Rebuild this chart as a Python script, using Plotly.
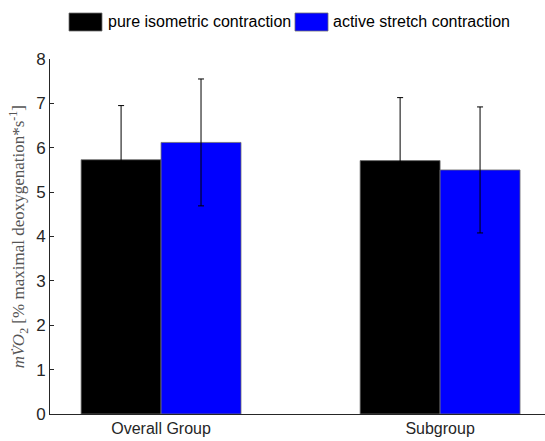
import plotly.graph_objects as go

# Group positions and labels
group_pos = [1, 2]
group_labels = ["Overall Group", "Subgroup"]

# Mean mVO2 and standard deviation per condition
iso_mean = [5.73, 5.71]
iso_sd = [1.22, 1.42]
stretch_mean = [6.12, 5.50]
stretch_sd = [1.43, 1.42]

series_names = ["pure isometric contraction", "active stretch contraction"]
series_colors = ["#000000", "#0000FF"]

AXIS_GREY = "#262626"
FONT = "Liberation Sans, Arial, sans-serif"

fig = go.Figure()
for name, color, mean, sd in zip(series_names, series_colors,
                                 [iso_mean, stretch_mean], [iso_sd, stretch_sd]):
    fig.add_trace(go.Bar(
        x=group_pos, y=mean, name=name,
        marker=dict(color=color, line=dict(color="#6e6e6e", width=0.8)),
        error_y=dict(type="data", array=sd, symmetric=True,
                     color="#000000", thickness=1, width=3),
        showlegend=False,
    ))

fig.update_layout(
    width=545, height=441,
    margin=dict(l=50, r=0, t=59, b=27),
    paper_bgcolor="white", plot_bgcolor="white",
    barmode="group", bargap=0.427, bargroupgap=0,
    font=dict(family=FONT, size=16, color=AXIS_GREY),
    showlegend=False,
)
fig.update_xaxes(
    range=[0.602, 2.376], tickvals=group_pos, ticktext=group_labels,
    showline=True, linecolor=AXIS_GREY, linewidth=1, ticks="",
    showgrid=False, zeroline=False, tickfont=dict(size=16, color=AXIS_GREY),
)
fig.update_yaxes(
    range=[0, 8], dtick=1, showline=True, linecolor=AXIS_GREY, linewidth=1,
    ticks="inside", ticklen=4, tickcolor=AXIS_GREY, showgrid=False,
    zeroline=False, tickfont=dict(size=17, color=AXIS_GREY),
)

# y-axis title
fig.add_annotation(
    xref="paper", yref="paper", x=-0.063, y=0.5, textangle=-90,
    xanchor="center", yanchor="middle", showarrow=False,
    text="<i>m</i><i>V\u0307</i><i>O</i><sub>2</sub> [% maximal deoxygenation*s<sup>-1</sup>]",
    font=dict(family="Liberation Serif, DejaVu Serif, serif", size=17, color="#555555"),
)

# Legend drawn above the axes with wide colour swatches
def px_x(p):
    return (p - 50) / 495.0

def px_y(p):
    return (414 - p) / 355.0

legend_items = [(69, 102, 106), (295, 328, 331)]
for (x0, x1, tx), name, color in zip(legend_items, series_names, series_colors):
    fig.add_shape(type="rect", xref="paper", yref="paper",
                  x0=px_x(x0), x1=px_x(x1), y0=px_y(31), y1=px_y(13),
                  fillcolor=color, line=dict(color="#6e6e6e", width=0.8))
    fig.add_annotation(xref="paper", yref="paper", x=px_x(tx), y=px_y(22),
                       xanchor="left", yanchor="middle", showarrow=False,
                       text=name, font=dict(family=FONT, size=16, color="#000000"))

fig.write_html("out.html")
